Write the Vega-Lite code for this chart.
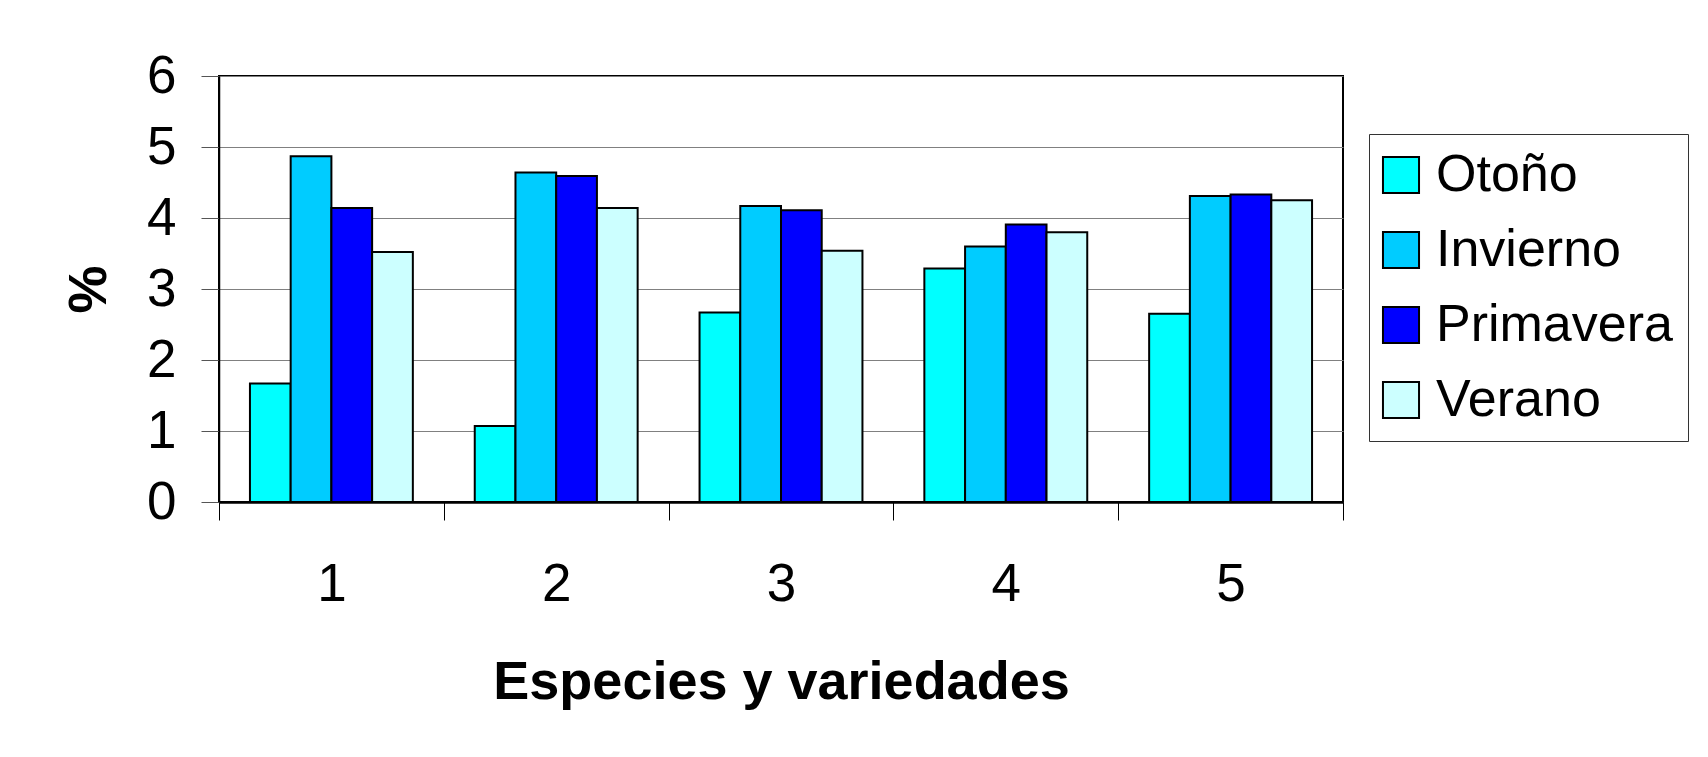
{
  "$schema": "https://vega.github.io/schema/vega-lite/v6.json",
  "autosize": "none",
  "width": 1124,
  "height": 426,
  "padding": {"left": 219, "top": 76, "right": 365, "bottom": 255},
  "background": "white",
  "config": {
    "font": "Liberation Sans",
    "view": {"stroke": "#000", "strokeWidth": 2}
  },
  "data": {
    "values": [
      {"g": "1", "s": "Otoño", "v": 1.67},
      {"g": "1", "s": "Invierno", "v": 4.87},
      {"g": "1", "s": "Primavera", "v": 4.14},
      {"g": "1", "s": "Verano", "v": 3.52},
      {"g": "2", "s": "Otoño", "v": 1.07},
      {"g": "2", "s": "Invierno", "v": 4.64},
      {"g": "2", "s": "Primavera", "v": 4.59},
      {"g": "2", "s": "Verano", "v": 4.14},
      {"g": "3", "s": "Otoño", "v": 2.67},
      {"g": "3", "s": "Invierno", "v": 4.17},
      {"g": "3", "s": "Primavera", "v": 4.11},
      {"g": "3", "s": "Verano", "v": 3.54},
      {"g": "4", "s": "Otoño", "v": 3.29},
      {"g": "4", "s": "Invierno", "v": 3.6},
      {"g": "4", "s": "Primavera", "v": 3.91},
      {"g": "4", "s": "Verano", "v": 3.8},
      {"g": "5", "s": "Otoño", "v": 2.65},
      {"g": "5", "s": "Invierno", "v": 4.31},
      {"g": "5", "s": "Primavera", "v": 4.33},
      {"g": "5", "s": "Verano", "v": 4.25}
    ]
  },
  "mark": {"type": "bar", "stroke": "#000", "strokeWidth": 2},
  "encoding": {
    "x": {
      "field": "g",
      "type": "nominal",
      "scale": {"paddingInner": 0, "paddingOuter": 0},
      "axis": {
        "title": "Especies y variedades",
        "titleFontSize": 54,
        "titleFontWeight": "bold",
        "titleColor": "#000",
        "titlePadding": 44,
        "labelAngle": 0,
        "labelFontSize": 53,
        "labelColor": "#000",
        "labelPadding": 38,
        "tickBand": "extent",
        "tickSize": 18,
        "tickColor": "#000",
        "tickWidth": 1,
        "domainColor": "#000",
        "domainWidth": 2.5,
        "grid": false
      }
    },
    "xOffset": {
      "field": "s",
      "type": "nominal",
      "sort": ["Otoño", "Invierno", "Primavera", "Verano"],
      "scale": {"paddingInner": 0, "paddingOuter": 0.76}
    },
    "y": {
      "field": "v",
      "type": "quantitative",
      "scale": {"domain": [0, 6], "nice": false},
      "axis": {
        "title": "%",
        "titleFontSize": 54,
        "titleFontWeight": "bold",
        "titleColor": "#000",
        "titlePadding": 30,
        "values": [0, 1, 2, 3, 4, 5, 6],
        "labelFontSize": 53,
        "labelColor": "#000",
        "labelPadding": 25,
        "tickSize": 18,
        "tickColor": "#555",
        "tickWidth": 1,
        "domainColor": "#000",
        "domainWidth": 1.5,
        "grid": true,
        "gridColor": "#808080",
        "gridWidth": 1,
        "gridOpacity": 1
      }
    },
    "color": {
      "field": "s",
      "type": "nominal",
      "sort": ["Otoño", "Invierno", "Primavera", "Verano"],
      "scale": {
        "domain": ["Otoño", "Invierno", "Primavera", "Verano"],
        "range": ["#00FFFF", "#00CCFF", "#0000FF", "#CCFFFF"]
      },
      "legend": {
        "title": null,
        "orient": "none",
        "legendX": 1150,
        "legendY": 58,
        "symbolType": "square",
        "symbolSize": 1300,
        "symbolStrokeColor": "#000",
        "symbolStrokeWidth": 2,
        "symbolOpacity": 1,
        "symbolOffset": -9,
        "labelFontSize": 52,
        "labelColor": "#000",
        "labelOffset": 9,
        "labelLimit": 400,
        "rowPadding": 23,
        "padding": 15,
        "strokeColor": "#333",
        "fillColor": "white"
      }
    }
  }
}
